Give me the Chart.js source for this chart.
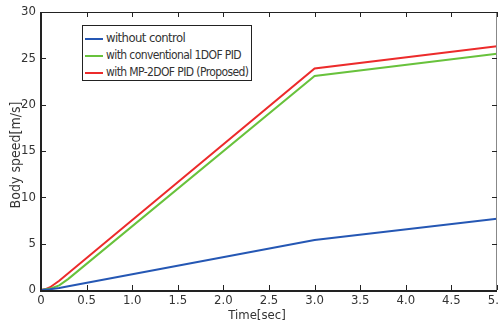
<!DOCTYPE html>
<html>
<head>
<meta charset="utf-8">
<script src="https://cdn.jsdelivr.net/npm/chart.js@4"></script>
<style>
  body { margin: 0; background: #fff; }
  #wrap { position: relative; width: 498px; height: 327px; }
  #legend {
    position: absolute; left: 82px; top: 25px; width: 170px; height: 56px;
    border: 1px solid #222; background: #fff; box-sizing: border-box;
    font-family: "DejaVu Sans Condensed", sans-serif;
    font-size: 12px; color: #333; letter-spacing: -0.6px;
  }
  .row { position: absolute; left: 2px; height: 16px; line-height: 16px; white-space: nowrap; }
  .row span { display: inline-block; width: 18px; height: 2px; vertical-align: middle; margin-right: 3px; }
</style>
</head>
<body>
<div id="wrap">
  <canvas id="c" width="498" height="327"></canvas>
  <div id="legend"></div>
</div>
<script>
const seriesNames = ["without control", "with conventional 1DOF PID", "with MP-2DOF PID (Proposed)"];
const seriesColors = ["#2557b4", "#68c23c", "#ec2b2b"];

const timeBlue = [0, 0.1, 0.2, 0.3, 3, 5];
const speedBlue = [0, 0.08, 0.22, 0.4, 5.4, 7.7];

const timeGreen = [0, 0.1, 0.2, 0.3, 3, 5];
const speedGreen = [0, 0.15, 0.5, 1.2, 23.1, 25.5];

const timeRed = [0, 0.05, 0.1, 0.2, 3, 5];
const speedRed = [0, 0.1, 0.3, 1.0, 23.9, 26.3];

const xTicks = [0, 0.5, 1, 1.5, 2, 2.5, 3, 3.5, 4, 4.5, 5];
const yTicks = [0, 5, 10, 15, 20, 25, 30];

const xTitle = "Time[sec]";
const yTitle = "Body speed[m/s]";

function pts(t, v) {
  return t.map((x, i) => ({ x: x, y: v[i] }));
}

// legend box
const legend = document.getElementById("legend");
seriesNames.forEach((name, i) => {
  const row = document.createElement("div");
  row.className = "row";
  row.style.top = (4 + i * 17) + "px";
  if (i === 0) row.style.fontSize = "13px";
  row.innerHTML = '<span style="background:' + seriesColors[i] + '"></span>' + name;
  legend.appendChild(row);
});

const fontFamily = "'DejaVu Sans Condensed', sans-serif";

// matlab style frame + inward ticks + axis titles
const framePlugin = {
  id: "frame",
  afterDraw(chart) {
    const ctx = chart.ctx;
    const a = chart.chartArea;
    const xs = chart.scales.x;
    const ys = chart.scales.y;
    ctx.save();
    ctx.strokeStyle = "#222";
    ctx.lineWidth = 1;
    ctx.beginPath();
    ctx.moveTo(a.left, a.top + 0.5);
    ctx.lineTo(a.right, a.top + 0.5);
    ctx.stroke();
    ctx.strokeStyle = "#888";
    ctx.beginPath();
    ctx.moveTo(a.right - 0.5, a.top);
    ctx.lineTo(a.right - 0.5, a.bottom);
    ctx.stroke();
    ctx.strokeStyle = "#222";
    ctx.lineWidth = 2;
    ctx.beginPath();
    ctx.moveTo(a.left, a.top);
    ctx.lineTo(a.left, a.bottom + 1);
    ctx.lineTo(a.right, a.bottom + 1);
    ctx.stroke();
    ctx.lineWidth = 1;
    xTicks.forEach((t) => {
      const px = Math.round(xs.getPixelForValue(t)) + 0.5;
      ctx.beginPath();
      ctx.moveTo(px, a.bottom);
      ctx.lineTo(px, a.bottom - 5);
      ctx.moveTo(px, a.top);
      ctx.lineTo(px, a.top + 5);
      ctx.stroke();
    });
    yTicks.forEach((t) => {
      const py = Math.round(ys.getPixelForValue(t)) + 0.5;
      ctx.beginPath();
      ctx.moveTo(a.left, py);
      ctx.lineTo(a.left + 5, py);
      ctx.moveTo(a.right, py);
      ctx.lineTo(a.right - 5, py);
      ctx.stroke();
    });

    ctx.fillStyle = "#333";
    ctx.font = "13px " + fontFamily;
    ctx.textAlign = "center";
    ctx.textBaseline = "middle";
    ctx.fillText(xTitle, 257, 316);
    ctx.translate(16, 155);
    ctx.rotate(-Math.PI / 2);
    ctx.font = "14px " + fontFamily;
    ctx.fillText(yTitle, 0, 0);
    ctx.restore();
  },
};

const font = { family: fontFamily, size: 13 };

new Chart(document.getElementById("c"), {
  type: "line",
  data: {
    datasets: [
      { label: seriesNames[0], data: pts(timeBlue, speedBlue), borderColor: seriesColors[0] },
      { label: seriesNames[1], data: pts(timeGreen, speedGreen), borderColor: seriesColors[1] },
      { label: seriesNames[2], data: pts(timeRed, speedRed), borderColor: seriesColors[2] },
    ],
  },
  options: {
    responsive: false,
    animation: false,
    devicePixelRatio: 1,
    layout: { padding: { top: 12, right: 1, left: 0, bottom: 0 } },
    elements: { point: { radius: 0 }, line: { borderWidth: 2, tension: 0 } },
    plugins: { legend: { display: false }, tooltip: { enabled: false } },
    scales: {
      x: {
        type: "linear",
        min: 0,
        max: 5,
        grid: { display: false, drawTicks: false },
        border: { display: false },
        afterBuildTicks: (s) => { s.ticks = xTicks.map((v) => ({ value: v })); },
        afterFit: (s) => { s.height = 37; s.paddingLeft = 0; s.paddingRight = 0; },
        ticks: { color: "#333", font: font, padding: 3, maxRotation: 0, autoSkip: false },
      },
      y: {
        min: 0,
        max: 30,
        grid: { display: false, drawTicks: false },
        border: { display: false },
        afterBuildTicks: (s) => { s.ticks = yTicks.map((v) => ({ value: v })); },
        afterFit: (s) => { s.width = 41; s.paddingTop = 0; s.paddingBottom = 0; },
        ticks: { color: "#333", font: font, padding: 5 },
      },
    },
  },
  plugins: [framePlugin],
});
</script>
</body>
</html>
